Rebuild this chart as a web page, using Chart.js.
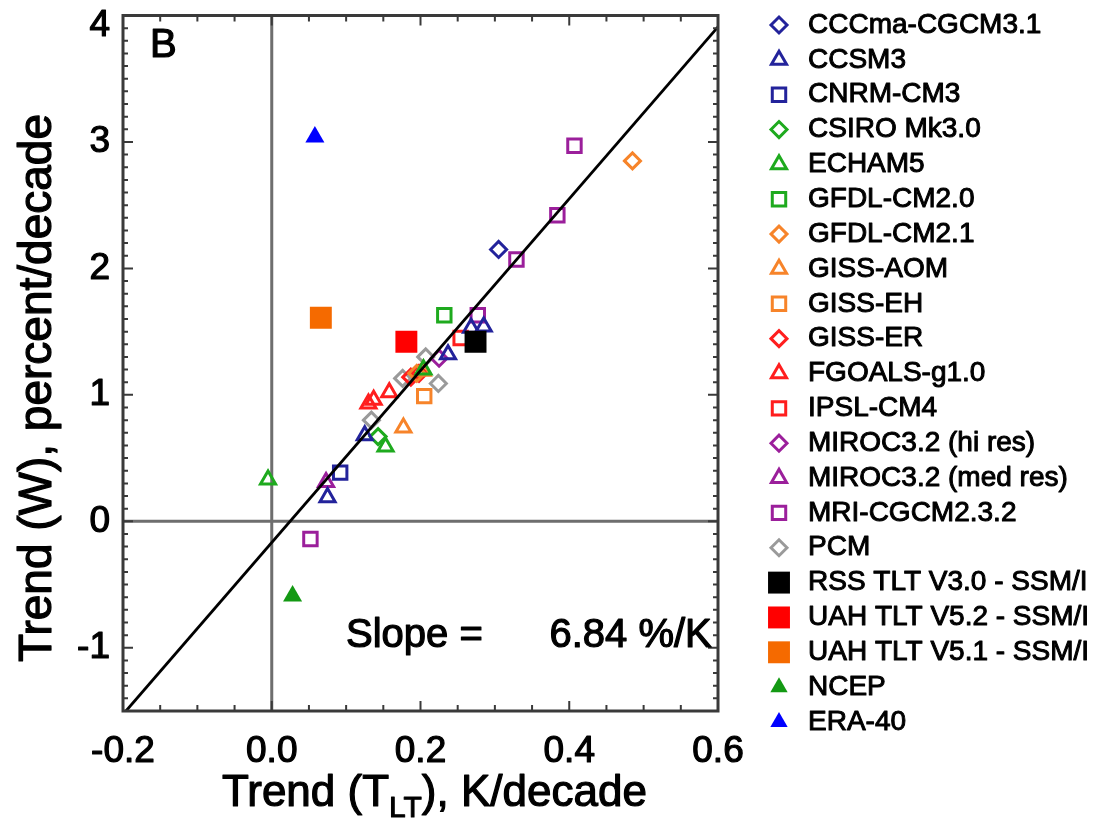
<!DOCTYPE html>
<html>
<head>
<meta charset="utf-8">
<script src="https://cdn.jsdelivr.net/npm/chart.js@4.4.1/dist/chart.umd.min.js"></script>
<style>
    html, body { margin: 0; padding: 0; background: #ffffff; }
    #wrap { width: 1104px; height: 820px; }
</style>
</head>
<body>
<div id="wrap"><canvas id="trendChart" width="1104" height="820"></canvas></div>
<script>

/* ==========================================
   Data
========================================== */

const modelNames = [
    'CCCma-CGCM3.1', 'CCSM3', 'CNRM-CM3', 'CSIRO Mk3.0', 'ECHAM5',
    'GFDL-CM2.0', 'GFDL-CM2.1', 'GISS-AOM', 'GISS-EH', 'GISS-ER',
    'FGOALS-g1.0', 'IPSL-CM4', 'MIROC3.2 (hi res)', 'MIROC3.2 (med res)',
    'MRI-CGCM2.3.2', 'PCM'
];

// T_LT trends, K/decade
const modelTltTrends = [
    [0.305],
    [0.075, 0.125, 0.237, 0.268, 0.285],
    [0.092],
    [0.143],
    [-0.005, 0.153, 0.204],
    [0.232],
    [0.195, 0.485],
    [0.177, 0.203],
    [0.205],
    [0.187, 0.198],
    [0.130, 0.137, 0.158],
    [0.254],
    [0.225],
    [0.073],
    [0.052, 0.277, 0.329, 0.384, 0.407],
    [0.134, 0.176, 0.207, 0.224]
];

// W trends, percent/decade
const modelWTrends = [
    [2.15],
    [0.19, 0.68, 1.32, 1.53, 1.54],
    [0.385],
    [0.67],
    [0.33, 0.59, 1.20],
    [1.63],
    [1.17, 2.85],
    [0.74, 1.19],
    [0.99],
    [1.14, 1.17],
    [0.93, 0.96, 1.02],
    [1.45],
    [1.29],
    [0.31],
    [-0.14, 1.63, 2.07, 2.42, 2.97],
    [0.80, 1.13, 1.30, 1.09]
];

const obsNames = [
    'RSS TLT V3.0 - SSM/I', 'UAH TLT V5.2 - SSM/I', 'UAH TLT V5.1 - SSM/I',
    'NCEP', 'ERA-40'
];
const obsTltTrends = [0.274, 0.181, 0.066, 0.028, 0.058];
const obsWTrends = [1.42, 1.42, 1.61, -0.59, 3.04];

// regression line end points
const fitTlt = [-0.196, 0.6];
const fitW = [-1.5, 3.91];
const slopeText = 'Slope =      6.84 %/K';

const xTickValues = [-0.2, 0.0, 0.2, 0.4, 0.6];
const xTickLabels = ['-0.2', '0.0', '0.2', '0.4', '0.6'];
const yTickValues = [-1, 0, 1, 2, 3, 4];
const yTickLabels = ['-1', '0', '1', '2', '3', '4'];

/* ==========================================
   Styles
========================================== */

const NAVY = '#23239b';
const GREEN = '#1eaa1e';
const ORANGE = '#f7842a';
const RED = '#ff1e1e';
const PURPLE = '#9b1f9b';
const GREY = '#9a9a9a';

const modelColors = [
    NAVY, NAVY, NAVY, GREEN, GREEN, GREEN, ORANGE, ORANGE, ORANGE,
    RED, RED, RED, PURPLE, PURPLE, PURPLE, GREY
];
const modelShapes = [
    'rectRot', 'triangle', 'rect', 'rectRot', 'triangle', 'rect',
    'rectRot', 'triangle', 'rect', 'rectRot', 'triangle', 'rect',
    'rectRot', 'triangle', 'rect', 'rectRot'
];
const shapeRadius = { rectRot: 8, triangle: 8.7, rect: 9.5 };
const MARKER_LINE = 3;

const obsColors = ['#000000', '#ff0000', '#f56a00', '#139913', '#0000ff'];
const obsShapes = ['rect', 'rect', 'rect', 'triangle', 'triangle'];
const obsRadius = { rect: 15.5, triangle: 11 };

const FONT = '"Liberation Sans", Arial, Helvetica, sans-serif';

/* ==========================================
   Datasets
========================================== */

const datasets = [];

modelNames.forEach(function (name, i) {
    datasets.push({
        label: name,
        data: modelTltTrends[i].map(function (x, j) {
            return { x: x, y: modelWTrends[i][j] };
        }),
        pointStyle: modelShapes[i],
        pointRadius: shapeRadius[modelShapes[i]],
        pointBorderWidth: MARKER_LINE,
        pointBorderColor: modelColors[i],
        pointBackgroundColor: 'rgba(0,0,0,0)',
        borderColor: modelColors[i],
        backgroundColor: 'rgba(0,0,0,0)',
        order: 2
    });
});

datasets.push({
    label: 'fit',
    data: fitTlt.map(function (x, j) { return { x: x, y: fitW[j] }; }),
    showLine: true,
    pointRadius: 0,
    borderColor: '#000000',
    borderWidth: 2.8,
    order: 1
});

obsNames.forEach(function (name, i) {
    datasets.push({
        label: name,
        data: [{ x: obsTltTrends[i], y: obsWTrends[i] }],
        pointStyle: obsShapes[i],
        pointRadius: obsRadius[obsShapes[i]],
        pointBorderWidth: 0,
        pointBackgroundColor: obsColors[i],
        pointBorderColor: obsColors[i],
        borderColor: obsColors[i],
        backgroundColor: obsColors[i],
        order: 0
    });
});

/* ==========================================
   Frame, ticks, labels, legend
========================================== */

const zeroLines = {
    id: 'zeroLines',
    beforeDatasetsDraw: function (chart) {
        const c = chart.ctx;
        const a = chart.chartArea;
        const x0 = chart.scales.x.getPixelForValue(0);
        const y0 = chart.scales.y.getPixelForValue(0);
        c.save();
        c.strokeStyle = '#6e6e6e';
        c.lineWidth = 3;
        c.beginPath();
        c.moveTo(x0, a.top); c.lineTo(x0, a.bottom);
        c.moveTo(a.left, y0); c.lineTo(a.right, y0);
        c.stroke();
        c.restore();
    }
};

function drawMarker(c, style, color, filled, radius, x, y) {
    c.save();
    c.strokeStyle = color;
    c.lineWidth = MARKER_LINE;
    c.fillStyle = filled ? color : 'rgba(0,0,0,0)';
    Chart.helpers.drawPoint(c, {
        pointStyle: style,
        radius: radius,
        borderWidth: filled ? 0 : MARKER_LINE,
        rotation: 0
    }, x, y);
    c.restore();
}

// slightly heavier text, closer to the original Helvetica rendering
function boldText(c, text, x, y, weight) {
    c.save();
    c.lineWidth = weight;
    c.lineJoin = 'round';
    c.strokeStyle = '#000000';
    c.fillStyle = '#000000';
    c.strokeText(text, x, y);
    c.fillText(text, x, y);
    c.restore();
}

const decorations = {
    id: 'decorations',
    afterDraw: function (chart) {
        const c = chart.ctx;
        const a = chart.chartArea;
        const sx = chart.scales.x;
        const sy = chart.scales.y;

        c.save();

        // box
        c.strokeStyle = '#3a3a3a';
        c.lineWidth = 3;
        c.strokeRect(a.left, a.top, a.right - a.left, a.bottom - a.top);

        // inward ticks
        c.lineWidth = 2;
        c.beginPath();
        for (let i = 0; i <= 16; i++) {
            const px = sx.getPixelForValue(-0.2 + i * 0.05);
            const len = (i % 4 === 0) ? 10 : 6;
            c.moveTo(px, a.bottom); c.lineTo(px, a.bottom - len);
            c.moveTo(px, a.top); c.lineTo(px, a.top + len);
        }
        for (let i = 0; i <= 55; i++) {
            const py = sy.getPixelForValue(-1.5 + i * 0.1);
            const len = ((i - 5) % 10 === 0) ? 10 : 5;
            c.moveTo(a.left, py); c.lineTo(a.left + len, py);
            c.moveTo(a.right, py); c.lineTo(a.right - len, py);
        }
        c.stroke();

        // tick labels
        c.font = '37px ' + FONT;
        c.textAlign = 'center';
        c.textBaseline = 'middle';
        xTickValues.forEach(function (v, i) {
            boldText(c, xTickLabels[i], sx.getPixelForValue(v), 752, 1.2);
        });
        c.textAlign = 'right';
        yTickValues.forEach(function (v, i) {
            let py = sy.getPixelForValue(v);
            if (i === yTickValues.length - 1) {
                py += 10;
            }
            boldText(c, yTickLabels[i], 110, py, 1.2);
        });

        // x title with subscript
        c.textAlign = 'left';
        c.textBaseline = 'alphabetic';
        let tx = 222;
        const base = 806;
        c.font = '44px ' + FONT;
        boldText(c, 'Trend (T', tx, base, 1.2);
        tx += c.measureText('Trend (T').width;
        c.font = '30px ' + FONT;
        boldText(c, 'LT', tx, base + 11, 1);
        tx += c.measureText('LT').width;
        c.font = '44px ' + FONT;
        boldText(c, '), K/decade', tx, base, 1.2);

        // y title
        c.save();
        c.translate(38, 388);
        c.rotate(-Math.PI / 2);
        c.textAlign = 'center';
        c.textBaseline = 'middle';
        c.font = '46px ' + FONT;
        boldText(c, 'Trend (W), percent/decade', 0, 0, 1.2);
        c.restore();

        // panel letter and slope
        c.font = '40px ' + FONT;
        c.textAlign = 'left';
        c.textBaseline = 'middle';
        boldText(c, 'B', 150, 46, 1.2);
        boldText(c, slopeText, 346, 636, 1.2);

        // legend
        const legendTop = 25;
        const legendStep = 34.85;
        c.font = '28px ' + FONT;
        modelNames.forEach(function (name, i) {
            const py = legendTop + i * legendStep;
            drawMarker(c, modelShapes[i], modelColors[i], false,
                shapeRadius[modelShapes[i]], 779, py);
            boldText(c, name, 808, py, 1);
        });
        obsNames.forEach(function (name, i) {
            const py = legendTop + (modelNames.length + i) * legendStep;
            drawMarker(c, obsShapes[i], obsColors[i], true,
                obsShapes[i] === 'rect' ? 15.5 : 10, 779, py);
            boldText(c, name, 808, py, 1);
        });

        c.restore();
    }
};

/* ==========================================
   Chart
========================================== */

const canvas = document.getElementById('trendChart');

new Chart(canvas, {
    type: 'scatter',
    data: { datasets: datasets },
    options: {
        responsive: false,
        animation: false,
        layout: {
            padding: { left: 123, right: 386, top: 13, bottom: 109 }
        },
        scales: {
            x: { type: 'linear', min: -0.2, max: 0.6, display: false },
            y: { type: 'linear', min: -1.5, max: 4, display: false }
        },
        plugins: {
            legend: { display: false },
            tooltip: { enabled: false }
        }
    },
    plugins: [zeroLines, decorations]
});

</script>
</body>
</html>
